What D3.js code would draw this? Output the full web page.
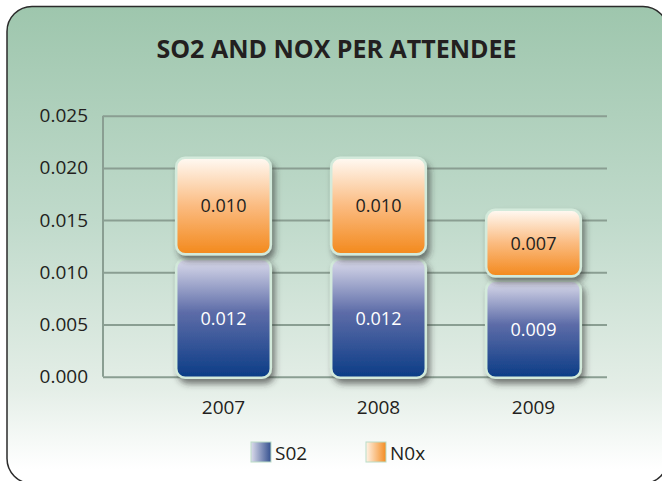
<!DOCTYPE html>
<html>
<head>
<meta charset="utf-8">
<script src="https://cdn.jsdelivr.net/npm/d3@7"></script>
<style>
  body { margin: 0; background: #fff; }
  text { font-family: "Open Sans", sans-serif; }
</style>
</head>
<body>
<div id="vis"></div>
<script>
// datos
var years = ["2007", "2008", "2009"];
var so2 = [0.0115, 0.0115, 0.0094];
var nox = [0.0097, 0.0097, 0.0068];
var yTicks = [0, 0.005, 0.010, 0.015, 0.020, 0.025];
var seriesNames = ["S02", "N0x"];

var w = 662, h = 481;

var svg = d3.select("#vis").append("svg")
  .attr("width", w)
  .attr("height", h);

var defs = svg.append("defs");

// fondo
var bg = defs.append("linearGradient").attr("id", "bg")
  .attr("x1", 0).attr("y1", 0).attr("x2", 0).attr("y2", 1);
bg.append("stop").attr("offset", "0%").attr("stop-color", "#9ec6ad");
bg.append("stop").attr("offset", "45%").attr("stop-color", "#c0dacb");
bg.append("stop").attr("offset", "80%").attr("stop-color", "#e4eee7");
bg.append("stop").attr("offset", "97%").attr("stop-color", "#ffffff");

var gBlue = defs.append("linearGradient").attr("id", "gblue")
  .attr("x1", 0).attr("y1", 0).attr("x2", 0).attr("y2", 1);
gBlue.append("stop").attr("offset", "0%").attr("stop-color", "#dcdcec");
gBlue.append("stop").attr("offset", "45%").attr("stop-color", "#5d6ca8");
gBlue.append("stop").attr("offset", "100%").attr("stop-color", "#0b3c86");

var gOr = defs.append("linearGradient").attr("id", "gorange")
  .attr("x1", 0).attr("y1", 0).attr("x2", 0).attr("y2", 1);
gOr.append("stop").attr("offset", "0%").attr("stop-color", "#fffaf4");
gOr.append("stop").attr("offset", "50%").attr("stop-color", "#fbbb80");
gOr.append("stop").attr("offset", "100%").attr("stop-color", "#f3891c");

var lBlue = defs.append("linearGradient").attr("id", "lblue")
  .attr("x1", 0).attr("y1", 0).attr("x2", 1).attr("y2", 0);
lBlue.append("stop").attr("offset", "0%").attr("stop-color", "#dcdcec");
lBlue.append("stop").attr("offset", "100%").attr("stop-color", "#34508f");

var lOr = defs.append("linearGradient").attr("id", "lorange")
  .attr("x1", 0).attr("y1", 0).attr("x2", 1).attr("y2", 0);
lOr.append("stop").attr("offset", "0%").attr("stop-color", "#fff3e6");
lOr.append("stop").attr("offset", "100%").attr("stop-color", "#f48c22");

var sh = defs.append("filter").attr("id", "shadow")
  .attr("x", "-20%").attr("y", "-20%").attr("width", "150%").attr("height", "150%");
sh.append("feDropShadow").attr("dx", 3).attr("dy", 5).attr("stdDeviation", 3)
  .attr("flood-color", "#2a2a2a").attr("flood-opacity", 0.6);

svg.append("rect")
  .attr("x", 7).attr("y", 6.5)
  .attr("width", 661).attr("height", 477)
  .attr("rx", 25).attr("ry", 25)
  .style("fill", "url(#bg)")
  .style("stroke", "#2b2b2b")
  .style("stroke-width", 1.5);

svg.append("text")
  .attr("x", 336.5).attr("y", 57.5)
  .attr("text-anchor", "middle")
  .style("font-size", "25px")
  .style("font-weight", "bold")
  .style("fill", "#231f20")
  .text("SO2 AND NOX PER ATTENDEE");

// escalas
var y = d3.scaleLinear().domain([0, 0.025]).range([376.7, 115.7]);
var x = d3.scaleBand().domain(years).range([146, 611])
  .paddingInner(0.39).paddingOuter(0.195);

var fmt = d3.format(".3f");

var yAxis = svg.append("g")
  .attr("transform", "translate(103,0)")
  .call(d3.axisLeft(y).tickValues(yTicks).tickSize(-504).tickPadding(15).tickFormat(fmt));
yAxis.select(".domain").remove();
yAxis.selectAll(".tick line")
  .style("stroke", "#8a9e92").style("stroke-width", 2);
yAxis.selectAll(".tick text")
  .style("font-size", "19px").style("fill", "#231f20").attr("font-family", null);

svg.append("line")
  .attr("x1", 103).attr("x2", 103)
  .attr("y1", y(0.025)).attr("y2", y(0))
  .style("stroke", "#8a9e92").style("stroke-width", 2);

var xAxis = svg.append("g")
  .attr("transform", "translate(0,400)")
  .call(d3.axisBottom(x).tickSize(0).tickPadding(0));
xAxis.select(".domain").remove();
xAxis.selectAll(".tick text")
  .attr("dy", "0.35em").attr("y", 7.8)
  .style("font-size", "19px").style("fill", "#231f20").attr("font-family", null);

// barras apiladas
var rows = years.map(function(yr, i){ return {year: yr, so2: so2[i], nox: nox[i]}; });
var stack = d3.stack().keys(["so2", "nox"])(rows);
var fills = {so2: "url(#gblue)", nox: "url(#gorange)"};
var labelColor = {so2: "#ffffff", nox: "#231f20"};
var gap = 2.3;

stack.forEach(function(layer){
  var g = svg.append("g").attr("class", "serie-" + layer.key);
  var segs = g.selectAll("g").data(layer).enter().append("g");
  segs.append("rect")
    .attr("x", function(d){ return x(d.data.year); })
    .attr("width", x.bandwidth())
    .attr("y", function(d){ return y(d[1]) + gap; })
    .attr("height", function(d){
      var bottom = d[0] === 0 ? y(0) + 1 : y(d[0]) - gap;
      return bottom - y(d[1]) - gap;
    })
    .attr("rx", 9).attr("ry", 9)
    .style("fill", fills[layer.key])
    .style("stroke", "#d3eadb")
    .style("stroke-width", 2.5)
    .attr("filter", "url(#shadow)");
  segs.append("text")
    .attr("x", function(d){ return x(d.data.year) + x.bandwidth() / 2; })
    .attr("y", function(d){
      var bottom = d[0] === 0 ? y(0) + 1 : y(d[0]) - gap;
      return (y(d[1]) + gap + bottom) / 2;
    })
    .attr("dy", "0.36em")
    .attr("text-anchor", "middle")
    .style("font-size", "18px")
    .style("fill", labelColor[layer.key])
    .text(function(d){ return fmt(d[1] - d[0] + 1e-9); });
});

// leyenda
var legend = svg.append("g").attr("transform", "translate(251,442)");
var items = [{name: seriesNames[0], fill: "url(#lblue)", x: 0},
             {name: seriesNames[1], fill: "url(#lorange)", x: 115}];
var li = legend.selectAll("g").data(items).enter().append("g")
  .attr("transform", function(d){ return "translate(" + d.x + ",0)"; });
li.append("rect")
  .attr("width", 20).attr("height", 20)
  .style("fill", function(d){ return d.fill; })
  .style("stroke", "#b9dcc6").style("stroke-width", 1);
li.append("text")
  .attr("x", 24).attr("y", 10.7).attr("dy", "0.36em")
  .style("font-size", "19px").style("fill", "#231f20")
  .text(function(d){ return d.name; });
</script>
</body>
</html>
